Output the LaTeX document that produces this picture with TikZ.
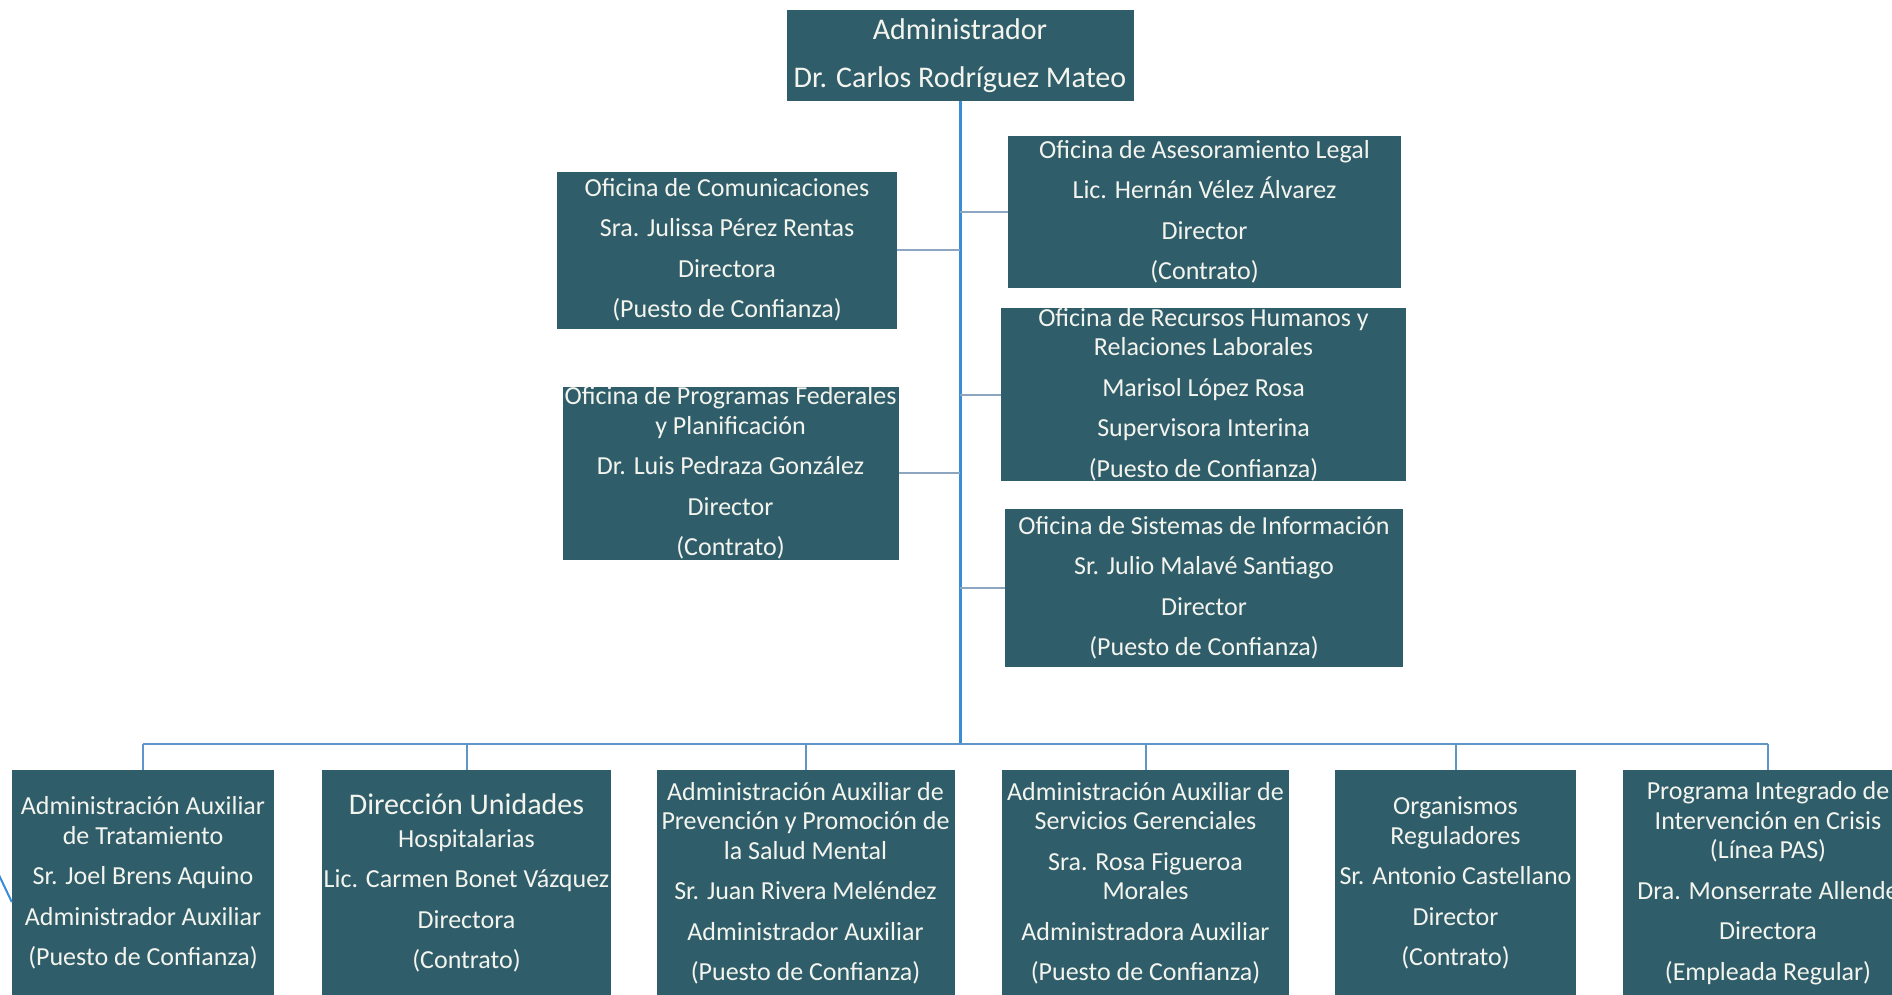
\documentclass[tikz,border=0pt]{standalone}
\usepackage{fontspec}
\setmainfont{Carlito}
\usetikzlibrary{calc}

\definecolor{boxfill}{RGB}{47,94,106}
\definecolor{boxtext}{RGB}{244,244,238}
\definecolor{trunkblue}{RGB}{58,140,214}
\definecolor{busblue}{RGB}{95,150,200}
\definecolor{branchgray}{RGB}{140,166,194}

\tikzset{
  unit/.style={fill=boxfill, draw=none, text=boxtext, align=center,
    inner sep=0pt, font=\fontsize{26}{29.5}\selectfont},
  lowunit/.style={unit, anchor=north, minimum height=226pt},
  trunk/.style={draw=trunkblue, line width=3pt},
  bus/.style={draw=busblue, line width=2.5pt},
  branch/.style={draw=branchgray, line width=2pt},
  drop/.style={draw=busblue, line width=2pt},
}

\begin{document}
\begin{tikzpicture}[x=1pt,y=-1pt]
  \fill[white] (0,0) rectangle (1892,994);
  \useasboundingbox (0,0) rectangle (1892,994);

  % head of the organisation
  \node[unit, minimum width=347pt, minimum height=91pt,
        font=\fontsize{30}{36}\selectfont] (adm) at (960,55.5)
    {Administrador\\[12pt]Dr. Carlos Rodríguez Mateo};

  % staff offices, left side
  \node[unit, minimum width=340pt, minimum height=157pt] (com) at (727,250)
    {Oficina de Comunicaciones\\[11pt]Sra. Julissa Pérez Rentas\\[11pt]Directora\\[11pt](Puesto de Confianza)};
  \node[unit, minimum width=336pt, minimum height=173pt] (fed) at (730.5,473)
    {Oficina de Programas Federales\\y Planificación\\[11pt]Dr. Luis Pedraza González\\[11pt]Director\\[11pt](Contrato)};

  % staff offices, right side
  \node[unit, minimum width=393pt, minimum height=152pt] (leg) at (1204.5,212)
    {Oficina de Asesoramiento Legal\\[11pt]Lic. Hernán Vélez Álvarez\\[11pt]Director\\[11pt](Contrato)};
  \node[unit, minimum width=405pt, minimum height=173pt] (rh) at (1203.5,394.5)
    {Oficina de Recursos Humanos y\\Relaciones Laborales\\[11pt]Marisol López Rosa\\[11pt]Supervisora Interina\\[11pt](Puesto de Confianza)};
  \node[unit, minimum width=398pt, minimum height=158pt] (sis) at (1204,588)
    {Oficina de Sistemas de Información\\[11pt]Sr. Julio Malavé Santiago\\[11pt]Director\\[11pt](Puesto de Confianza)};

  % line units
  \node[lowunit, minimum width=262pt] (b1) at (143,770)
    {Administración Auxiliar\\de Tratamiento\\[11pt]Sr. Joel Brens Aquino\\[11pt]Administrador Auxiliar\\[11pt](Puesto de Confianza)};
  \node[lowunit, minimum width=289pt] (b2) at (466.5,770)
    {{\fontsize{30}{34}\selectfont Dirección Unidades}\\[3pt]Hospitalarias\\[11pt]Lic. Carmen Bonet Vázquez\\[11pt]Directora\\[11pt](Contrato)};
  \node[lowunit, minimum width=298pt] (b3) at (805.5,770)
    {Administración Auxiliar de\\Prevención y Promoción de\\la Salud Mental\\[11pt]Sr. Juan Rivera Meléndez\\[11pt]Administrador Auxiliar\\[11pt](Puesto de Confianza)};
  \node[lowunit, minimum width=287pt] (b4) at (1145.5,770)
    {Administración Auxiliar de\\Servicios Gerenciales\\[11pt]Sra. Rosa Figueroa\\Morales\\[11pt]Administradora Auxiliar\\[11pt](Puesto de Confianza)};
  \node[lowunit, minimum width=241pt] (b5) at (1455.5,770)
    {Organismos\\Reguladores\\[11pt]Sr. Antonio Castellano\\[11pt]Director\\[11pt](Contrato)};
  \node[lowunit, minimum width=290pt] (b6) at (1768,770)
    {Programa Integrado de\\Intervención en Crisis\\(Línea PAS)\\[11pt]Dra. Monserrate Allende\\[11pt]Directora\\[11pt](Empleada Regular)};

  % connectors
  \coordinate (hub) at (960,744);
  \draw[trunk] (adm.south) -- (hub);
  \foreach \n in {com,fed}
    \draw[branch] (\n.east) -- (\n.east -| adm.south);
  \foreach \n in {leg,rh,sis}
    \draw[branch] (\n.west) -- (\n.west -| adm.south);
  \draw[bus] (b1.north |- hub) -- (b6.north |- hub);
  \foreach \n in {b1,b2,b3,b4,b5,b6}
    \draw[drop] (\n.north |- hub) -- (\n.north);

  % stray link entering the first unit from the left
  \coordinate (ext) at (-2,873);
  \draw[drop, draw=trunkblue] (ext) -- ([yshift=-132pt]b1.north west);
\end{tikzpicture}
\end{document}
